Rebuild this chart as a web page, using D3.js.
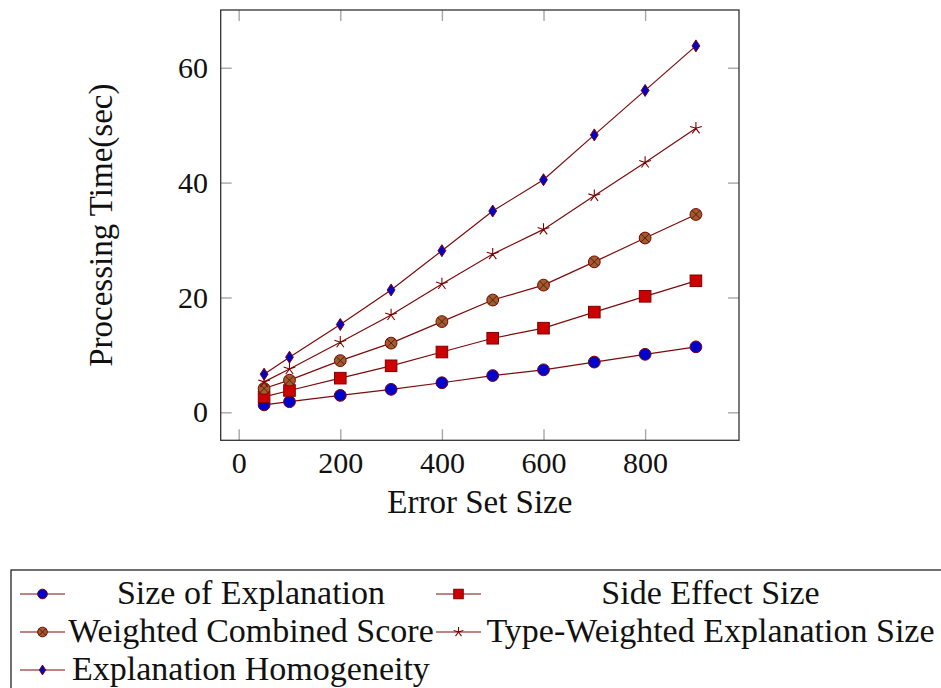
<!DOCTYPE html>
<html>
<head>
<meta charset="utf-8">
<script src="https://cdn.jsdelivr.net/npm/d3@7"></script>
<style>
  body { margin: 0; background: #fff; }
  text { font-family: "Liberation Serif", "DejaVu Serif", serif; fill: #111; }
</style>
</head>
<body>
<svg id="chart" width="941" height="688"></svg>
<script>
const svg = d3.select("#chart");

// data
const errorSizes = [50, 100, 200, 300, 400, 500, 600, 700, 800, 900];
const sizeOfExplanation = [1.3, 1.85, 2.95, 4.0, 5.15, 6.4, 7.4, 8.75, 10.1, 11.4];
const sideEffectSize = [2.7, 3.8, 5.95, 8.1, 10.5, 12.9, 14.65, 17.45, 20.2, 22.9];
const weightedCombined = [4.15, 5.6, 9.0, 12.05, 15.8, 19.55, 22.15, 26.2, 30.35, 34.45];
const typeWeighted = [5.3, 7.55, 12.2, 16.95, 22.35, 27.55, 31.85, 37.7, 43.5, 49.45];
const homogeneity = [6.65, 9.6, 15.3, 21.3, 28.15, 35.05, 40.5, 48.3, 56.05, 63.8];
const seriesNames = ["Size of Explanation", "Side Effect Size", "Weighted Combined Score",
    "Type-Weighted Explanation Size", "Explanation Homogeneity"];
const xTicks = [0, 200, 400, 600, 800];
const yTicks = [0, 20, 40, 60];

const series = [
    {name: seriesNames[0], values: sizeOfExplanation, mark: "circle", fill: "#0000cc"},
    {name: seriesNames[1], values: sideEffectSize, mark: "square", fill: "#cc0000"},
    {name: seriesNames[2], values: weightedCombined, mark: "otimes", fill: "#9e5e2c"},
    {name: seriesNames[3], values: typeWeighted, mark: "star", fill: "none"},
    {name: seriesNames[4], values: homogeneity, mark: "diamond", fill: "#0000cc"}
];

const plot = {left: 220.7, right: 739, top: 10, bottom: 440.3};
const lineColor = "#7d0a0a";
const tickColor = "#a8a8a8";

const x = d3.scaleLinear().domain([-35.4, 984.8]).range([plot.left, plot.right]);
const y = d3.scaleLinear().domain([-4.87, 70.05]).range([plot.bottom, plot.top]);

function drawMark(g, type, cx, cy, fill, s) {
    if (type === "circle" || type === "otimes") {
        g.append("circle").attr("cx", cx).attr("cy", cy).attr("r", 5.9 * s)
            .attr("fill", fill).attr("stroke", "#800000").attr("stroke-width", 1);
        if (type === "otimes") {
            const d = 5.9 * s * Math.SQRT1_2;
            g.append("path")
                .attr("d", `M${cx - d},${cy - d}L${cx + d},${cy + d}M${cx - d},${cy + d}L${cx + d},${cy - d}`)
                .attr("stroke", "#5a1010").attr("stroke-width", 0.9);
        }
    } else if (type === "square") {
        const h = 5.8 * s;
        g.append("rect").attr("x", cx - h).attr("y", cy - h).attr("width", 2 * h).attr("height", 2 * h)
            .attr("fill", fill).attr("stroke", "#800000").attr("stroke-width", 1);
    } else if (type === "diamond") {
        const w = 3.9 * s, h = 6 * s;
        g.append("path").attr("d", `M${cx},${cy - h}L${cx + w},${cy}L${cx},${cy + h}L${cx - w},${cy}Z`)
            .attr("fill", fill).attr("stroke", "#800000").attr("stroke-width", 1);
    } else if (type === "star") {
        const r = 6.2 * s;
        let d = "";
        for (let k = 0; k < 5; k++) {
            const a = -Math.PI / 2 + k * 2 * Math.PI / 5;
            d += `M${cx},${cy}L${cx + r * Math.cos(a)},${cy + r * Math.sin(a)}`;
        }
        g.append("path").attr("d", d).attr("stroke", "#800000").attr("stroke-width", 1.1).attr("fill", "none");
    }
}

// axes (ticks inward, mirrored)
const axisStyle = (g) => {
    g.select(".domain").remove();
    g.selectAll(".tick line").attr("stroke", tickColor).attr("stroke-width", 1.4);
    g.selectAll(".tick text").style("font-size", "30px").attr("fill", "#111");
};

svg.append("g").attr("transform", `translate(0,${plot.bottom})`)
    .call(d3.axisBottom(x).tickValues(xTicks).tickSize(-11).tickPadding(11))
    .call(axisStyle);
svg.append("g").attr("transform", `translate(0,${plot.top})`)
    .call(d3.axisTop(x).tickValues(xTicks).tickSize(-11).tickFormat(""))
    .call(axisStyle);
svg.append("g").attr("transform", `translate(${plot.left},0)`)
    .call(d3.axisLeft(y).tickValues(yTicks).tickSize(-11).tickPadding(12.7))
    .call(axisStyle);
svg.append("g").attr("transform", `translate(${plot.right},0)`)
    .call(d3.axisRight(y).tickValues(yTicks).tickSize(-11).tickFormat(""))
    .call(axisStyle);

// frame
svg.append("rect")
    .attr("x", plot.left).attr("y", plot.top)
    .attr("width", plot.right - plot.left).attr("height", plot.bottom - plot.top)
    .attr("fill", "none").attr("stroke", "#333").attr("stroke-width", 1.3);

// lines and marks
const line = d3.line().x((d, i) => x(errorSizes[i])).y(d => y(d));
series.forEach(s => {
    svg.append("path").datum(s.values).attr("d", line)
        .attr("fill", "none").attr("stroke", lineColor).attr("stroke-width", 1.2);
});
series.forEach(s => {
    const g = svg.append("g");
    s.values.forEach((v, i) => drawMark(g, s.mark, x(errorSizes[i]), y(v), s.fill, 1));
});

// axis labels
svg.append("text").attr("x", (plot.left + plot.right) / 2).attr("y", 513)
    .attr("text-anchor", "middle").style("font-size", "33px").text("Error Set Size");
svg.append("text").attr("transform", `translate(112,${(plot.top + plot.bottom) / 2}) rotate(-90)`)
    .attr("text-anchor", "middle").style("font-size", "33px").text("Processing Time(sec)");

// legend
const legend = svg.append("g");
legend.append("rect").attr("x", 11).attr("y", 570).attr("width", 960).attr("height", 140)
    .attr("fill", "#fff").attr("stroke", "#111").attr("stroke-width", 1.2);
const legendCols = [{lx: 20, tx: 251}, {lx: 436, tx: 710.5}];
const legendRows = [594, 632, 670];
series.forEach((s, i) => {
    const c = legendCols[i % 2], ry = legendRows[Math.floor(i / 2)];
    legend.append("line").attr("x1", c.lx).attr("x2", c.lx + 45).attr("y1", ry).attr("y2", ry)
        .attr("stroke", lineColor).attr("stroke-width", 1.2);
    drawMark(legend, s.mark, c.lx + 22.5, ry, s.fill, 0.82);
    legend.append("text").attr("x", i === 4 ? 72 : c.tx).attr("y", ry + 10)
        .attr("text-anchor", i === 4 ? "start" : "middle")
        .style("font-size", "34px").text(s.name);
});
</script>
</body>
</html>
